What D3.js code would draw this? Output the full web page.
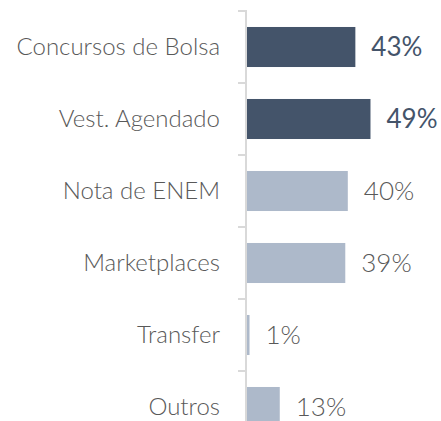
<!DOCTYPE html>
<html>
<head>
<meta charset="utf-8">
<script src="https://cdn.jsdelivr.net/npm/d3@7"></script>
<style>
  body { margin: 0; background: #fff; }
  svg { display: block; }
</style>
</head>
<body>
<div id="chart"></div>
<script>
const categories = ['Concursos de Bolsa', 'Vest. Agendado', 'Nota de ENEM', 'Marketplaces', 'Transfer', 'Outros'];
const values = [43, 49, 40, 39, 1, 13];
const highlight = [true, true, false, false, false, false];

const width = 441;
const height = 421;
const axisX = 247;

const data = categories.map((c, i) => ({name: c, value: values[i], hl: highlight[i]}));

const y = d3.scaleBand()
    .domain(categories)
    .range([11, 11 + 72 * categories.length])
    .paddingInner(0.444)
    .paddingOuter(0.222);

const x = d3.scaleLinear()
    .domain([0, 50])
    .range([axisX, axisX + 126]);

const svg = d3.select('#chart').append('svg')
    .attr('width', width)
    .attr('height', height);

// bars
svg.append('g')
    .selectAll('rect').data(data).enter().append('rect')
    .attr('x', x(0))
    .attr('y', d => y(d.name))
    .attr('width', d => x(d.value) - x(0))
    .attr('height', y.bandwidth())
    .attr('fill', d => d.hl ? '#44546A' : '#ADB9CA');

// axis line + ticks at band edges
const axis = svg.append('g').attr('stroke', '#D9D9D9').attr('stroke-width', 2);
axis.append('line')
    .attr('x1', axisX - 1).attr('x2', axisX - 1)
    .attr('y1', y.range()[0] - 1).attr('y2', y.range()[1]);
axis.selectAll('.tick').data(categories.concat(['_end'])).enter().append('line')
    .attr('x1', axisX - 9).attr('x2', axisX - 1)
    .attr('y1', (d, i) => y.range()[0] + i * y.step())
    .attr('y2', (d, i) => y.range()[0] + i * y.step());

// category labels
svg.append('g')
    .selectAll('text').data(data).enter().append('text')
    .attr('x', axisX - 27)
    .attr('y', d => y(d.name) + y.bandwidth() / 2)
    .attr('dy', '0.35em')
    .attr('text-anchor', 'end')
    .attr('fill', '#595959')
    .style('font-family', 'Lato, sans-serif')
    .style('font-weight', 300)
    .style('font-size', '24px')
    .text(d => d.name);

// value labels
svg.append('g')
    .selectAll('text').data(data).enter().append('text')
    .attr('x', d => x(d.value) + 16)
    .attr('y', d => y(d.name) + y.bandwidth() / 2)
    .attr('dy', '0.36em')
    .attr('fill', d => d.hl ? '#44546A' : '#595959')
    .style('font-family', 'Lato, sans-serif')
    .style('font-weight', d => d.hl ? 400 : 300)
    .style('font-size', '26px')
    .text(d => d.value + '%');
</script>
</body>
</html>
